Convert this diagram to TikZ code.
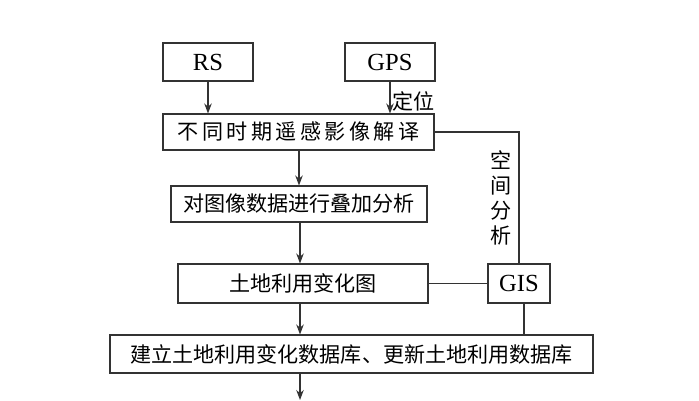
\documentclass[tikz,border=0pt]{standalone}
\usepackage{fontspec}
\setmainfont{Liberation Serif}
\newfontfamily\cjk{Noto Sans CJK SC}
\newfontfamily\cjkwide[LetterSpace=16]{Noto Sans CJK SC}
\usepackage{xcolor}
\usetikzlibrary{arrows.meta,calc}
\definecolor{linegray}{HTML}{333333}
\tikzset{every node/.append style={font=\fontsize{14pt}{17pt}\selectfont},
  cjktext/.style={font=\cjk\fontsize{12pt}{14.2pt}\selectfont},
  flowbox/.style={draw=linegray,line width=.6pt,inner sep=0pt,minimum height=.76cm},
  link/.style={draw=linegray,line width=.6pt}}
\begin{document}
\begin{tikzpicture}[>=Stealth,x=1cm,y=1cm]
  \useasboundingbox (0,0) rectangle (13.98,-8);
  \node[flowbox,minimum width=1.8cm] (rs) at (4.16,-1.24) {RS};
  \node[flowbox,minimum width=1.8cm] (gps) at (7.8,-1.24) {GPS};
  \node[flowbox,minimum width=5.42cm,minimum height=.72cm,font=\cjkwide\fontsize{12pt}{14.2pt}\selectfont] (interp) at (5.97,-2.64) {不同时期遥感影像解译};
  \node[flowbox,cjktext,minimum width=5.12cm,minimum height=.72cm] (overlay) at (5.98,-4.08) {对图像数据进行叠加分析};
  \node[flowbox,cjktext,minimum width=5.0cm,minimum height=.78cm] (changemap) at (6.06,-5.67) {土地利用变化图};
  \node[flowbox,minimum width=1.24cm,minimum height=.78cm] (gis) at (10.38,-5.67) {GIS};
  \node[flowbox,cjktext,minimum width=9.66cm] (database) at (7.03,-7.08) {建立土地利用变化数据库、更新土地利用数据库};
  \coordinate (out) at (6.0,-8.0);
  \draw[link,->] (rs) -- (interp.north -| rs);
  \draw[link,->] (gps.south) -- (gps.south |- interp.north) node[cjktext,midway,right,inner sep=1pt,yshift=-2pt] {定位};
  \draw[link,->] (overlay.north |- interp.south) -- (overlay.north);
  \draw[link,->] (out |- overlay.south) -- (out |- changemap.north);
  \draw[link,->] (out |- changemap.south) -- (out |- database.north);
  \draw[link,->] (out |- database.south) -- (out);
  \draw[link] (interp.east) -| (gis.north)
      node[cjktext,pos=.75,left,align=center,inner sep=.14cm] {空\\间\\分\\析};
  \draw[link] (changemap) -- (gis);
  \draw[link] ([xshift=.1cm]gis.south) -- ([xshift=.1cm]gis.south |- database.north);
\end{tikzpicture}
\end{document}
